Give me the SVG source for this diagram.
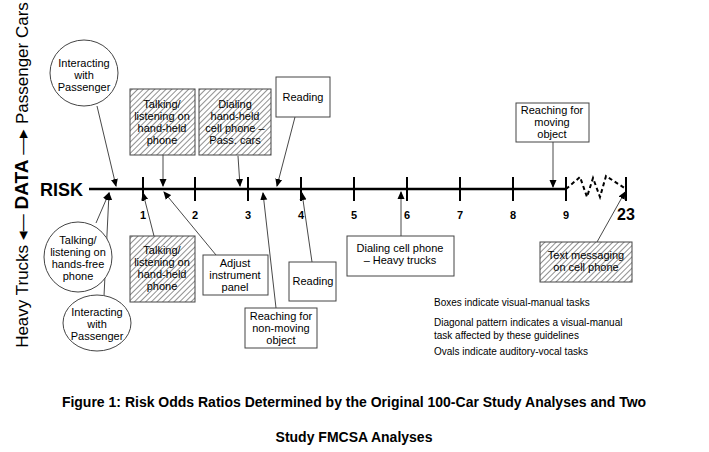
<svg xmlns="http://www.w3.org/2000/svg" width="709" height="452" viewBox="0 0 709 452">
<defs>
<pattern id="hatch" width="4" height="4" patternUnits="userSpaceOnUse" patternTransform="rotate(45)"><rect width="4" height="4" fill="#fff"/><line x1="0" y1="0" x2="0" y2="4" stroke="#555" stroke-width="1.3"/></pattern>
<marker id="ah" markerWidth="8" markerHeight="8" refX="7" refY="4" orient="auto" markerUnits="userSpaceOnUse"><path d="M0,0.5 L8,4 L0,7.5 z" fill="#000"/></marker>
</defs>
<style>
text{font-family:"Liberation Sans",Arial,sans-serif;fill:#000}
.n{font-size:11px;text-anchor:middle}
.box{fill:#fff;stroke:#444;stroke-width:1}
.hb{fill:url(#hatch);stroke:#444;stroke-width:1}
.c{stroke:#333;stroke-width:0.9;fill:none;marker-end:url(#ah)}
.t{stroke:#000;stroke-width:2}
.lb{font-size:11px;font-weight:bold;text-anchor:middle}
.lg{font-size:10px}
</style>
<rect width="709" height="452" fill="#fff"/>
<text transform="translate(28,175) rotate(-90)" text-anchor="middle" font-size="17">Heavy Trucks ◂— <tspan font-weight="bold" font-size="19">DATA</tspan> —▸ Passenger Cars</text>
<g id="axis">
<text x="40" y="196" font-size="18" font-weight="bold">RISK</text>
<line x1="89" y1="189" x2="566" y2="189" stroke="#000" stroke-width="2.5"/>
<line class="t" x1="143" y1="177" x2="143" y2="201"/><line class="t" x1="195" y1="177" x2="195" y2="201"/><line class="t" x1="248" y1="177" x2="248" y2="201"/><line class="t" x1="301" y1="177" x2="301" y2="201"/><line class="t" x1="354" y1="177" x2="354" y2="201"/><line class="t" x1="407" y1="177" x2="407" y2="201"/><line class="t" x1="460" y1="177" x2="460" y2="201"/><line class="t" x1="513" y1="177" x2="513" y2="201"/><line class="t" x1="566" y1="177" x2="566" y2="201"/><line class="t" x1="626" y1="177" x2="626" y2="201"/>
<polyline points="566,189 580,177 587,197 593,178 600,197 606,176 626,189" fill="none" stroke="#000" stroke-width="2" stroke-dasharray="4,3"/>
<text class="lb" x="143" y="219">1</text><text class="lb" x="195" y="219">2</text><text class="lb" x="248" y="219">3</text><text class="lb" x="301" y="219">4</text><text class="lb" x="354" y="219">5</text><text class="lb" x="407" y="219">6</text><text class="lb" x="460" y="219">7</text><text class="lb" x="513" y="219">8</text><text class="lb" x="566" y="219">9</text>
<text x="626" y="220" font-size="16" font-weight="bold" text-anchor="middle">23</text>
</g>
<g id="connectors">
<line class="c" x1="97" y1="106" x2="116" y2="186"/>
<line class="c" x1="163" y1="155" x2="163" y2="186"/>
<line class="c" x1="238" y1="156" x2="240" y2="186"/>
<line class="c" x1="295" y1="117" x2="277" y2="186"/>
<line class="c" x1="96" y1="223" x2="109" y2="193"/>
<line class="c" x1="104" y1="296" x2="109" y2="193"/>
<line class="c" x1="154" y1="236" x2="143" y2="193"/>
<line class="c" x1="216" y1="255" x2="164" y2="192"/>
<line class="c" x1="276" y1="308" x2="263" y2="193"/>
<line class="c" x1="312" y1="262" x2="302" y2="193"/>
<line class="c" x1="401" y1="236" x2="401" y2="192"/>
<line class="c" x1="553" y1="142" x2="553" y2="187"/>
<line class="c" x1="597" y1="242" x2="625" y2="192"/>
</g>
<g id="n1"><ellipse cx="84" cy="73" rx="34" ry="33" class="box"/><text class="n" x="84" y="67">Interacting</text><text class="n" x="84" y="79">with</text><text class="n" x="84" y="91">Passenger</text></g>
<g id="n2"><rect x="130" y="89" width="65" height="66" class="hb"/><text class="n" x="162" y="108">Talking/</text><text class="n" x="162" y="120">listening on</text><text class="n" x="162" y="132">hand-held</text><text class="n" x="162" y="144">phone</text></g>
<g id="n3"><rect x="199" y="89" width="72" height="66" class="hb"/><text class="n" x="235" y="108">Dialing</text><text class="n" x="235" y="120">hand-held</text><text class="n" x="235" y="132">cell phone –</text><text class="n" x="235" y="144">Pass. cars</text></g>
<g id="n4"><rect x="276" y="77" width="54" height="40" class="box"/><text class="n" x="303" y="101">Reading</text></g>
<g id="n5"><ellipse cx="97" cy="323" rx="34" ry="28" class="box"/><text class="n" x="97" y="316">Interacting</text><text class="n" x="97" y="328">with</text><text class="n" x="97" y="340">Passenger</text></g>
<g id="n6"><ellipse cx="78" cy="257" rx="34" ry="35" class="box"/><text class="n" x="78" y="244">Talking/</text><text class="n" x="78" y="256">listening on</text><text class="n" x="78" y="268">hands-free</text><text class="n" x="78" y="280">phone</text></g>
<g id="n7"><rect x="130" y="236" width="65" height="66" class="hb"/><text class="n" x="162" y="254">Talking/</text><text class="n" x="162" y="266">listening on</text><text class="n" x="162" y="278">hand-held</text><text class="n" x="162" y="290">phone</text></g>
<g id="n8"><rect x="203" y="255" width="65" height="40" class="box"/><text class="n" x="235" y="267">Adjust</text><text class="n" x="235" y="279">instrument</text><text class="n" x="235" y="291">panel</text></g>
<g id="n9"><rect x="245" y="308" width="72" height="40" class="box"/><text class="n" x="281" y="320">Reaching for</text><text class="n" x="281" y="332">non-moving</text><text class="n" x="281" y="344">object</text></g>
<g id="n10"><rect x="289" y="262" width="47" height="39" class="box"/><text class="n" x="313" y="285">Reading</text></g>
<g id="n11"><rect x="347" y="236" width="107" height="40" class="box"/><text class="n" x="400" y="252">Dialing cell phone</text><text class="n" x="400" y="264">– Heavy trucks</text></g>
<g id="n12"><rect x="516" y="103" width="73" height="39" class="box"/><text class="n" x="552" y="114">Reaching for</text><text class="n" x="552" y="126">moving</text><text class="n" x="552" y="138">object</text></g>
<g id="n13"><rect x="540" y="242" width="92" height="40" class="hb"/><text class="n" x="586" y="259">Text messaging</text><text class="n" x="586" y="271">on cell phone</text></g>
<g id="legend">
<text class="lg" x="434" y="306">Boxes indicate visual-manual tasks</text>
<text class="lg" x="434" y="326">Diagonal pattern indicates a visual-manual</text>
<text class="lg" x="434" y="339">task affected by these guidelines</text>
<text class="lg" x="434" y="355">Ovals indicate auditory-vocal tasks</text>
</g>
<text x="354" y="407" text-anchor="middle" font-family="Liberation Serif" font-size="14" font-weight="bold">Figure 1: Risk Odds Ratios Determined by the Original 100-Car Study Analyses and Two</text>
<text x="354" y="442" text-anchor="middle" font-family="Liberation Serif" font-size="14" font-weight="bold">Study FMCSA Analyses</text>
</svg>
